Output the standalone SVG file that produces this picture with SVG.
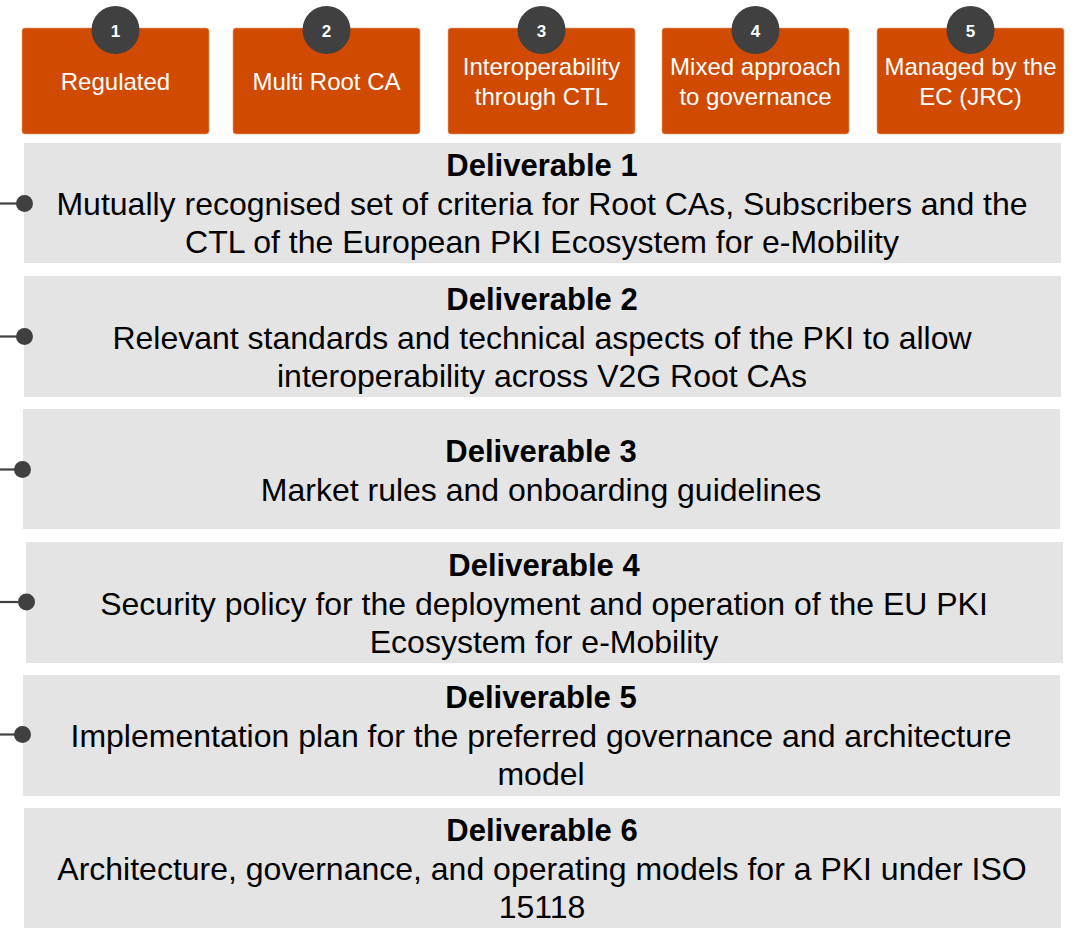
<svg xmlns="http://www.w3.org/2000/svg" width="1079" height="928" viewBox="0 0 1079 928">
<style>
.ob{fill:#D04A02;stroke:#E9A27C;stroke-width:0.6}
.num{fill:#404040}
.nt{font-family:"Liberation Sans",Arial,sans-serif;font-weight:bold;font-size:17px;fill:#fff;text-anchor:middle}
.ot{font-family:"Liberation Sans",Arial,sans-serif;font-size:24px;fill:#fff;text-anchor:middle}
.gb{fill:#E4E4E4}
.tt{font-family:"Liberation Sans",Arial,sans-serif;font-weight:bold;font-size:31px;fill:#000;text-anchor:middle}
.bt{font-family:"Liberation Sans",Arial,sans-serif;font-size:32px;fill:#000;text-anchor:middle}
.cl{stroke:#404040;stroke-width:2.2;fill:none}
.cd{fill:#404040}
</style>
<rect width="1079" height="928" fill="#fff"/>
<g id="approach1"><rect class="ob" x="22" y="28" width="187" height="106" rx="3"/><circle class="num" cx="115.5" cy="30" r="24"/><text class="nt" x="115.5" y="36.5">1</text><text class="ot" x="115.5" y="90">Regulated</text></g>
<g id="approach2"><rect class="ob" x="233" y="28" width="187" height="106" rx="3"/><circle class="num" cx="326.5" cy="30" r="24"/><text class="nt" x="326.5" y="36.5">2</text><text class="ot" x="326.5" y="90">Multi Root CA</text></g>
<g id="approach3"><rect class="ob" x="448" y="28" width="187" height="106" rx="3"/><circle class="num" cx="541.5" cy="30" r="24"/><text class="nt" x="541.5" y="36.5">3</text><text class="ot" x="541.5" y="75">Interoperability</text><text class="ot" x="541.5" y="105">through CTL</text></g>
<g id="approach4"><rect class="ob" x="662" y="28" width="187" height="106" rx="3"/><circle class="num" cx="755.5" cy="30" r="24"/><text class="nt" x="755.5" y="36.5">4</text><text class="ot" x="755.5" y="75">Mixed approach</text><text class="ot" x="755.5" y="105">to governance</text></g>
<g id="approach5"><rect class="ob" x="877" y="28" width="187" height="106" rx="3"/><circle class="num" cx="970.5" cy="30" r="24"/><text class="nt" x="970.5" y="36.5">5</text><text class="ot" x="970.5" y="75">Managed by the</text><text class="ot" x="970.5" y="105">EC (JRC)</text></g>
<g id="deliverable1"><rect class="gb" x="24" y="143" width="1037" height="120"/><text class="tt" x="542" y="176">Deliverable 1</text><text class="bt" x="542" y="214.5">Mutually recognised set of criteria for Root CAs, Subscribers and the</text><text class="bt" x="542" y="253">CTL of the European PKI Ecosystem for e-Mobility</text></g>
<g id="deliverable2"><rect class="gb" x="24" y="276" width="1037" height="121"/><text class="tt" x="542" y="310">Deliverable 2</text><text class="bt" x="542" y="348.5">Relevant standards and technical aspects of the PKI to allow</text><text class="bt" x="542" y="387">interoperability across V2G Root CAs</text></g>
<g id="deliverable3"><rect class="gb" x="23" y="409" width="1037" height="120"/><text class="tt" x="541" y="462">Deliverable 3</text><text class="bt" x="541" y="501">Market rules and onboarding guidelines</text></g>
<g id="deliverable4"><rect class="gb" x="26" y="542" width="1037" height="121"/><text class="tt" x="544" y="576">Deliverable 4</text><text class="bt" x="544" y="614.5">Security policy for the deployment and operation of the EU PKI</text><text class="bt" x="544" y="653">Ecosystem for e-Mobility</text></g>
<g id="deliverable5"><rect class="gb" x="23" y="675" width="1037" height="121"/><text class="tt" x="541" y="708">Deliverable 5</text><text class="bt" x="541" y="746.5">Implementation plan for the preferred governance and architecture</text><text class="bt" x="541" y="785">model</text></g>
<g id="deliverable6"><rect class="gb" x="24" y="808" width="1037" height="120"/><text class="tt" x="542" y="841">Deliverable 6</text><text class="bt" x="542" y="879.5">Architecture, governance, and operating models for a PKI under ISO</text><text class="bt" x="542" y="918">15118</text></g>
<g id="connectors">
<line class="cl" x1="0" y1="203.5" x2="24" y2="203.5"/><circle class="cd" cx="24.5" cy="203.5" r="8.5"/>
<line class="cl" x1="0" y1="336.5" x2="24" y2="336.5"/><circle class="cd" cx="24.5" cy="336.5" r="8.5"/>
<line class="cl" x1="0" y1="469.5" x2="22" y2="469.5"/><circle class="cd" cx="22.5" cy="469.5" r="8.5"/>
<line class="cl" x1="0" y1="602" x2="26" y2="602"/><circle class="cd" cx="26.5" cy="602" r="8.5"/>
<line class="cl" x1="0" y1="734.5" x2="22" y2="734.5"/><circle class="cd" cx="22.5" cy="734.5" r="8.5"/>
</g>
</svg>
